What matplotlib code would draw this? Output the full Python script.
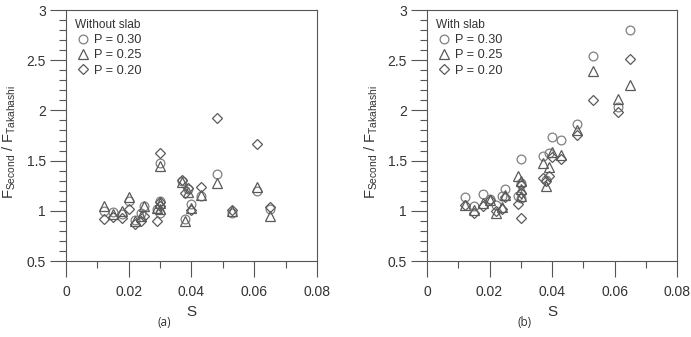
import matplotlib
matplotlib.use("Agg")
import matplotlib.pyplot as plt
from matplotlib.ticker import MultipleLocator

plt.rcParams['font.family'] = ['Liberation Sans', 'DejaVu Sans']
plt.rcParams['mathtext.fontset'] = 'custom'
plt.rcParams['mathtext.rm'] = 'Liberation Sans'
plt.rcParams['mathtext.it'] = 'Liberation Sans'

# drift ratio values shared by all series
s = [0.012, 0.015, 0.018, 0.020, 0.022, 0.024, 0.025, 0.029, 0.030, 0.030,
     0.030, 0.037, 0.038, 0.039, 0.040, 0.043, 0.048, 0.053, 0.061, 0.065]

# (a) without slab
a_p30 = [1.00, 0.99, 0.97, 1.10, 0.91, 0.98, 1.05, 1.02, 1.48, 1.10,
         0.98, 1.30, 0.92, 1.22, 1.07, 1.15, 1.37, 0.98, 1.20, 1.02]
a_p25 = [1.05, 0.97, 1.00, 1.14, 0.90, 0.95, 1.05, 1.03, 1.45, 1.08,
         1.02, 1.29, 0.90, 1.19, 1.03, 1.16, 1.28, 1.00, 1.24, 0.95]
a_p20 = [0.92, 0.94, 0.93, 1.02, 0.87, 0.90, 0.95, 0.90, 1.58, 1.09,
         1.05, 1.31, 1.18, 1.23, 1.01, 1.24, 1.92, 1.01, 1.67, 1.04]

# (b) with slab
b_p30 = [1.14, 1.05, 1.17, 1.12, 1.06, 1.15, 1.22, 1.15, 1.52, 1.28,
         1.13, 1.55, 1.31, 1.58, 1.74, 1.71, 1.86, 2.54, 2.03, 2.80]
b_p25 = [1.06, 1.01, 1.08, 1.11, 0.98, 1.04, 1.16, 1.35, 1.30, 1.22,
         1.15, 1.48, 1.25, 1.44, 1.59, 1.56, 1.80, 2.39, 2.11, 2.25]
b_p20 = [1.06, 0.98, 1.05, 1.11, 1.00, 1.02, 1.14, 1.07, 0.93, 1.26,
         1.18, 1.33, 1.30, 1.35, 1.54, 1.52, 1.76, 2.10, 1.98, 2.51]

x_ticks = [0, 0.02, 0.04, 0.06, 0.08]
x_labels = ['0', '0.02', '0.04', '0.06', '0.08']
y_ticks = [0.5, 1, 1.5, 2, 2.5, 3]
y_labels = ['0.5', '1', '1.5', '2', '2.5', '3']
labels = ['P = 0.30', 'P = 0.25', 'P = 0.20']
line_col = '#555555'
text_col = '#333333'


def panel(ax, p30, p25, p20, title, tag):
    ax.plot(s, p30, 'o', ms=6.3, mfc='none', mec='#808080', mew=0.9, label=labels[0])
    ax.plot(s, p25, '^', ms=6.5, mfc='none', mec='#5a5a5a', mew=0.9, label=labels[1])
    ax.plot(s, p20, 'D', ms=5, mfc='none', mec='#5a5a5a', mew=0.9, label=labels[2])
    ax.set_xlim(0, 0.08)
    ax.set_ylim(0.5, 3)
    ax.set_xticks(x_ticks)
    ax.set_xticklabels(x_labels)
    ax.set_yticks(y_ticks)
    ax.set_yticklabels(y_labels)
    ax.xaxis.set_minor_locator(MultipleLocator(0.01))
    ax.yaxis.set_minor_locator(MultipleLocator(0.1))
    ax.tick_params(which='major', direction='out', length=11.5, width=0.8,
                   color=line_col, labelsize=10, labelcolor=text_col, pad=3)
    ax.tick_params(axis='x', which='major', pad=6)
    ax.tick_params(which='minor', direction='out', length=5, width=0.8, color=line_col)
    for sp in ax.spines.values():
        sp.set_color(line_col)
        sp.set_linewidth(0.8)
    ax.set_xlabel('S', fontsize=11, color=text_col, labelpad=4)
    ax.set_ylabel(r'$\mathregular{F_{Second}\ /\ F_{Takahashi}}$', fontsize=10.5,
                  color=text_col)
    ax.yaxis.set_label_coords(-0.19, 0.475)
    leg = ax.legend(loc='upper left', title=title, frameon=False, fontsize=9.2,
                    title_fontsize=8.6, alignment='left', handletextpad=0.3,
                    labelspacing=0.25, borderaxespad=0.3, handlelength=1.2,
                    labelcolor=text_col)
    leg.get_title().set_color(text_col)
    ax.text(0.39, -0.245, tag, transform=ax.transAxes, fontsize=8.5,
            color=text_col, ha='center', va='center', family='Open Sans')


fig = plt.figure(figsize=(6.91, 3.37), dpi=100)
ax1 = fig.add_axes([0.0955, 0.2255, 0.3632, 0.7448])
ax2 = fig.add_axes([0.618, 0.2255, 0.3618, 0.7448])
panel(ax1, a_p30, a_p25, a_p20, 'Without slab', '(a)')
panel(ax2, b_p30, b_p25, b_p20, 'With slab', '(b)')
fig.savefig('out.png', dpi=100)
